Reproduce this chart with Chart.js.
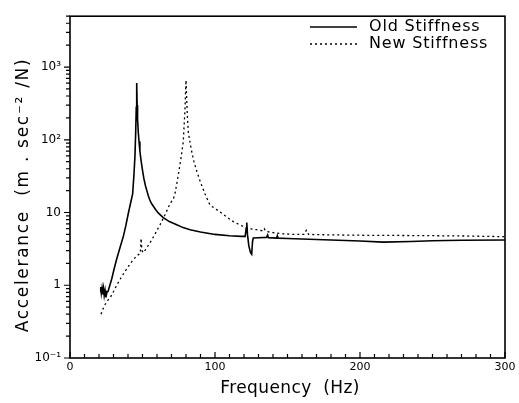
<!DOCTYPE html>
<html><head><meta charset="utf-8">
<script src="https://cdn.jsdelivr.net/npm/chart.js@4/dist/chart.umd.min.js"></script>
<style>html,body{margin:0;padding:0;background:#fff}</style>
</head><body>
<canvas id="c" width="519" height="403"></canvas>
<script>
const seriesNames = ['Old Stiffness', 'New Stiffness'];
const xTitle = 'Frequency  (Hz)';
const yTitle = 'Accelerance  (m . sec\u207B\u00B2 /N)';

const oldFreq = [20.7,21.2,21.6,22.1,22.6,23.1,23.6,24.2,24.8,25.4,26.2,27.5,28.8,30.5,32.2,34.5,36.8,38.5,40.2,41.8,43.2,44.1,44.8,45.3,45.7,46.0,46.3,46.6,47.1,47.6,48.2,48.8,49.4,50.2,51,52,53,54,55,56,57.5,59,61,64.3,68.5,73.6,78,82.8,90,100,110,118,120.8,121.5,121.9,122.4,123.3,124.5,125.3,125.9,126.4,130,135.5,136.3,136.8,140,142.5,143,143.5,150,165,180,200,216,235,250,270,300];
const oldAccel = [0.82,0.95,0.78,0.92,0.75,0.9,0.72,0.85,0.68,0.8,0.82,1.0,1.23,1.7,2.29,3.3,4.7,6.6,9.7,13.5,18,33,60,126,280,605,300,190,126,95,70,56,46,36,29,23.5,20,17,15,13.5,12.2,11,9.8,8.5,7.5,6.8,6.2,5.8,5.4,5.0,4.8,4.7,4.7,6.0,7.3,5.0,3.5,2.8,2.67,4.0,4.47,4.5,4.55,4.9,4.5,4.48,4.45,4.8,4.45,4.4,4.3,4.2,4.05,3.92,4.0,4.1,4.15,4.2];

const newFreq = [21.4,22.5,24.1,26,27.6,30,32.2,35.5,39.1,42.5,46.0,48.5,49.0,49.6,50.6,53,55.2,58.5,62.1,65.5,69,71.3,72.4,74.7,76.5,78.1,79.3,79.7,80,80.4,80.9,81.6,83.9,85.5,87.4,90,93.1,96.6,103.4,108,112.6,119.5,123,128.7,133,134,135,140,147,155,161.5,163,164.5,175,190,204.6,220,250,275,300];
const newAccel = [0.40,0.46,0.54,0.62,0.67,0.82,1.0,1.3,1.68,2.1,2.54,2.75,4.4,3.0,2.8,3.3,3.84,5.0,6.8,9.3,13.2,15.5,18,33,55,93,262,450,660,400,220,126,69,50,37,26,18,12.6,10.2,8.7,7.5,6.4,6.0,5.8,5.6,6.0,5.5,5.3,5.1,5.0,5.0,5.7,5.0,4.95,4.9,4.86,4.85,4.8,4.75,4.65];

const xTicks = [0, 100, 200, 300];
const yTicks = [0.1, 1, 10, 100, 1000];
const yTickLabels = ['10\u207B\u00B9', '1', '10', '10\u00B2', '10\u00B3'];

const FONT = 'DejaVu Sans';

const framePlugin = {
  id: 'frame',
  afterDatasetsDraw(chart) {
    const ctx = chart.ctx, a = chart.chartArea;
    const xs = chart.scales.x, ys = chart.scales.y;
    ctx.save();
    ctx.strokeStyle = '#000';
    ctx.lineWidth = 1.6;
    ctx.strokeRect(a.left, a.top, a.right - a.left, a.bottom - a.top);
    ctx.lineWidth = 1.2;
    ctx.beginPath();
    for (let v = xs.min; v <= xs.max; v += 10) {
      const px = xs.getPixelForValue(v);
      const len = (v % 100 === 0) ? 6 : 4;
      ctx.moveTo(px, a.bottom); ctx.lineTo(px, a.bottom - len);
    }
    for (let d = -1; d <= 3; d++) {
      for (let m = 1; m <= 9; m++) {
        const v = m * Math.pow(10, d);
        if (v < ys.min || v > ys.max) continue;
        const py = ys.getPixelForValue(v);
        const len = m === 1 ? 6 : 4;
        ctx.moveTo(a.left, py); ctx.lineTo(a.left - len, py);
      }
    }
    ctx.stroke();
    ctx.restore();
  },
  afterDraw(chart) {
    const ctx = chart.ctx;
    const ds = chart.data.datasets;
    const rows = [27, 44];
    ctx.save();
    ctx.font = '16px "' + FONT + '"';
    ctx.fillStyle = '#000';
    ctx.textBaseline = 'middle';
    try { ctx.letterSpacing = '0.8px'; } catch (e) {}
    ds.forEach((d, i) => {
      ctx.beginPath();
      ctx.strokeStyle = '#000';
      ctx.lineWidth = d.borderWidth;
      ctx.setLineDash(d.borderDash || []);
      ctx.moveTo(310, rows[i]); ctx.lineTo(357, rows[i]);
      ctx.stroke();
      ctx.setLineDash([]);
      ctx.fillText(d.label, 369, rows[i]);
    });
    // axis titles
    ctx.font = '17px "' + FONT + '"';
    ctx.textBaseline = 'alphabetic';
    ctx.textAlign = 'center';
    try { ctx.letterSpacing = '0.4px'; } catch (e) {}
    ctx.fillText(xTitle, 290, 393);
    ctx.save();
    ctx.translate(28, 195);
    ctx.rotate(-Math.PI / 2);
    try { ctx.letterSpacing = '1.7px'; } catch (e) {}
    ctx.fillText(yTitle, 0, 0);
    ctx.restore();
    ctx.restore();
  }
};

new Chart(document.getElementById('c'), {
  type: 'line',
  data: {
    datasets: [
      { label: seriesNames[0], data: oldFreq.map((f, i) => ({ x: f, y: oldAccel[i] })),
        borderColor: '#000', borderWidth: 1.6, pointRadius: 0, tension: 0, fill: false },
      { label: seriesNames[1], data: newFreq.map((f, i) => ({ x: f, y: newAccel[i] })),
        borderColor: '#000', borderWidth: 1.3, borderDash: [2, 3], pointRadius: 0, tension: 0, fill: false }
    ]
  },
  options: {
    responsive: false, animation: false, devicePixelRatio: 1,
    layout: { padding: { top: 8, right: 14, left: 0, bottom: 0 } },
    plugins: { legend: { display: false }, tooltip: { enabled: false } },
    scales: {
      x: {
        type: 'linear', min: 0, max: 300,
        afterBuildTicks: s => { s.ticks = xTicks.map(v => ({ value: v })); },
        ticks: { callback: v => String(v), font: { family: FONT, size: 11 }, color: '#000', padding: 3, maxRotation: 0 },
        grid: { display: false, drawTicks: false }, border: { display: false },
        afterFit: s => { s.height = 45; }
      },
      y: {
        type: 'logarithmic', min: 0.1, max: 5000,
        afterBuildTicks: s => { s.ticks = yTicks.map(v => ({ value: v })); },
        ticks: { callback: (v, i) => yTickLabels[i], font: { family: FONT, size: 12 }, color: '#000', padding: 9 },
        grid: { display: false, drawTicks: false }, border: { display: false },
        afterFit: s => { s.width = 70; }
      }
    }
  },
  plugins: [framePlugin]
});
</script>
</body></html>
